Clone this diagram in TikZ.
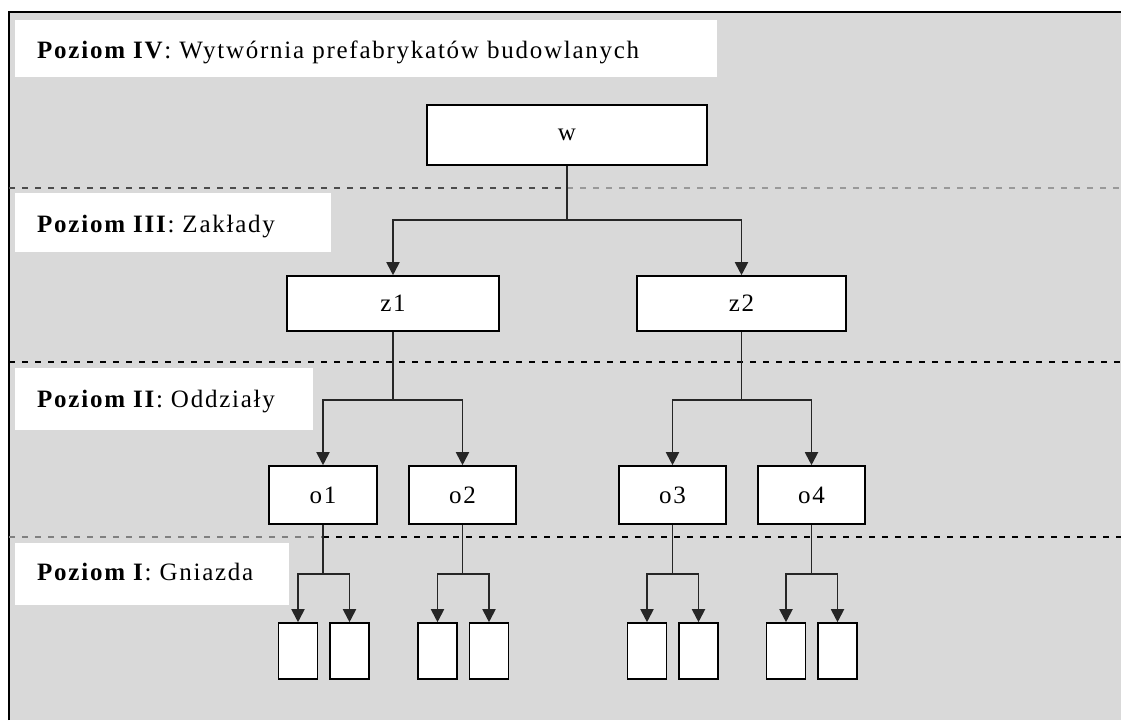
\documentclass[tikz,border=0pt]{standalone}
\usepackage{fontspec}
\setmainfont{Liberation Serif}[LetterSpace=7]
\usetikzlibrary{arrows.meta}
\begin{document}
\begin{tikzpicture}[x=1pt,y=-1pt,
  every node/.style={font=\fontsize{25}{28}\selectfont},
  box/.style={draw=black,line width=1.6pt,fill=white,inner sep=0pt},
  lab/.style={anchor=base west,inner sep=0pt},
  conn/.style={draw=black!85,line width=1.9pt},
  arr/.style={conn,-{Triangle[length=13pt,width=13pt]}},
  sep/.style={line width=1.4pt,dash pattern=on 6pt off 7pt}
]
\useasboundingbox (0,0) rectangle (1121,720);
\fill[white] (0,0) rectangle (1121,720);
\fill[black!15] (9,12) rectangle (1121,720);
\draw[line width=1.6pt] (9,720) -- (9,12) -- (1121,12);

% label backgrounds
\fill[white] (15,20) rectangle (717,77);
\fill[white] (15,193) rectangle (331,252);
\fill[white] (15,368) rectangle (313,430);
\fill[white] (15,543) rectangle (289,605);
\node[lab] (l4) at (37,58) {\textbf{Poziom IV}: Wytwórnia prefabrykatów budowlanych};
\node[lab] (l3) at (37,232) {\textbf{Poziom III}: Zakłady};
\node[lab] (l2) at (37,407) {\textbf{Poziom II}: Oddziały};
\node[lab] (l1) at (37,580) {\textbf{Poziom I}: Gniazda};

% separators
\draw[sep,black!70] (9,188) -- (567,188);
\draw[sep,black!40] (567,188) -- (1121,188);
\draw[sep,black] (9,362) -- (1121,362);
\draw[sep,black!50] (9,537) -- (323,537);
\draw[sep,black] (323,537) -- (1121,537);

% boxes
\node[box,minimum width=280pt,minimum height=60pt] (w) at (567,135) {w};
\node[box,minimum width=212pt,minimum height=55pt] (z1) at (393,303.5) {z1};
\node[box,minimum width=209pt,minimum height=55pt] (z2) at (741.5,303.5) {z2};
\node[box,minimum width=108pt,minimum height=58pt] (o1) at (323,495) {o1};
\node[box,minimum width=107pt,minimum height=58pt] (o2) at (462.5,495) {o2};
\node[box,minimum width=107pt,minimum height=58pt] (o3) at (672.5,495) {o3};
\node[box,minimum width=107pt,minimum height=58pt] (o4) at (811.5,495) {o4};
\foreach \n/\x in {a/298,b/349.5,c/437.5,d/489,e/647,f/698.5,g/786,h/837.5}{
  \node[box,minimum width=39pt,minimum height=56pt] (g\n) at (\x,651) {};
}

% connectors
\coordinate (bw) at (567,220);
\draw[conn] (w.south) -- (bw);
\draw[arr] (bw) -| (z1.north);
\draw[arr] (bw) -| (z2.north);
\coordinate (bz1) at (393,400);
\coordinate (bz2) at (741.5,400);
\draw[conn] (z1.south) -- (bz1);
\draw[arr] (bz1) -| (o1.north);
\draw[arr] (bz1) -| (o2.north);
\draw[conn] (z2.south) -- (bz2);
\draw[arr] (bz2) -| (o3.north);
\draw[arr] (bz2) -| (o4.north);
\foreach \o/\l/\r in {o1/ga/gb,o2/gc/gd,o3/ge/gf,o4/gg/gh}{
  \coordinate (b\o) at ([yshift=-49pt]\o.south);
  \draw[conn] (\o.south) -- (b\o);
  \draw[arr] (b\o) -| (\l.north);
  \draw[arr] (b\o) -| (\r.north);
}
\end{tikzpicture}
\end{document}
